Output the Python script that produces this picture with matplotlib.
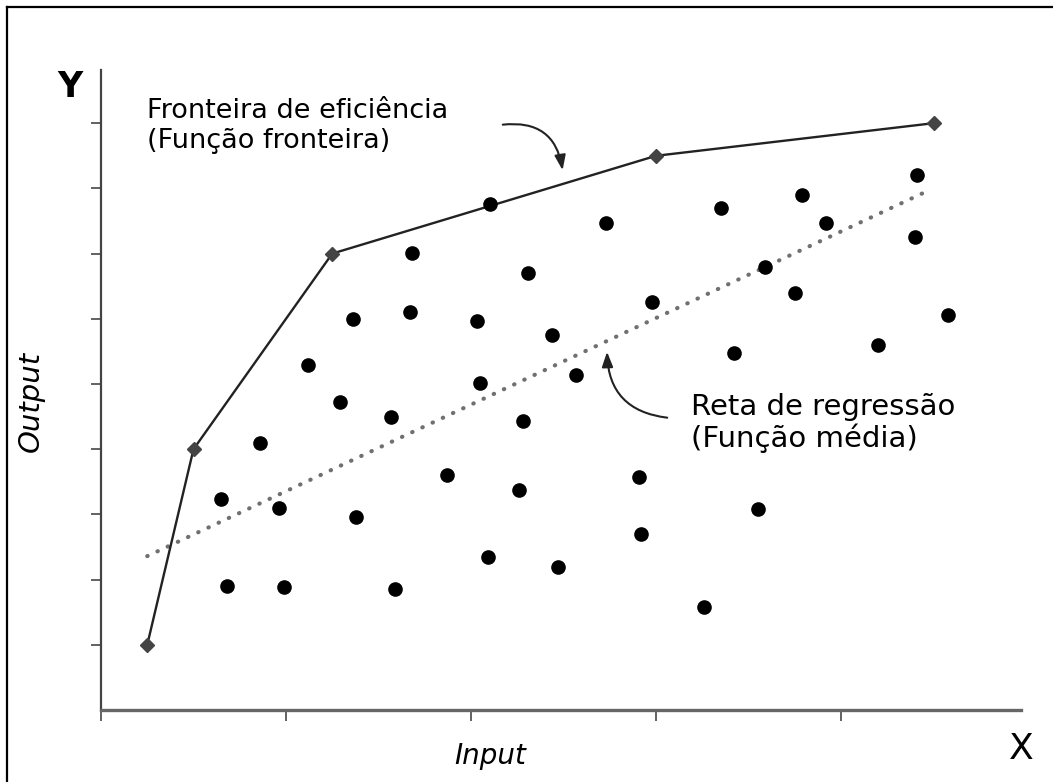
import matplotlib
matplotlib.use('Agg')
import matplotlib.pyplot as plt
from matplotlib.lines import Line2D

# Dados (unidades arbitrárias)
fronteira_x = [0.25, 0.5, 1.25, 3.0, 4.5]
fronteira_y = [1.0, 4.0, 7.0, 8.5, 9.0]

pontos_x = [1.68, 2.10, 2.31, 2.73, 3.35, 3.79, 3.92, 4.41, 4.40,
            1.36, 1.67, 2.03, 2.44, 2.98, 3.59, 3.75, 4.58,
            1.12, 1.29, 1.57, 2.05, 2.28, 2.57, 3.42, 4.20,
            0.86, 0.65, 0.96, 1.38, 1.87, 2.26, 2.91, 2.92, 3.55,
            2.09, 2.47, 0.68, 0.99, 1.59, 3.26]
pontos_y = [7.01, 7.76, 6.70, 7.47, 7.70, 7.90, 7.47, 8.21, 7.25,
            6.00, 6.10, 5.97, 5.75, 6.26, 6.79, 6.40, 6.06,
            5.29, 4.72, 4.49, 5.02, 4.43, 5.14, 5.48, 5.60,
            4.10, 3.24, 3.10, 2.96, 3.60, 3.37, 3.57, 2.70, 3.08,
            2.35, 2.19, 1.90, 1.89, 1.86, 1.58]

regressao_x = [0.25, 4.49]
regressao_y = [2.36, 7.99]

xticks = [0, 1, 2, 3, 4]
yticks = [1, 2, 3, 4, 5, 6, 7, 8, 9]

fig = plt.figure(figsize=(10.53, 7.82), dpi=100, facecolor='white')
W, H = 1053.0, 782.0
PX, PY = 185.0, 65.2  # pixels por unidade


def dx(px):
    return (px - 101) / PX


def dy(py):
    return (710 - py) / PY


ax = fig.add_axes([101 / W, 72 / H, 920 / W, 640 / H])
ax.set_xlim(0, 920 / PX)
ax.set_ylim(0, 640 / PY)

for s in ['top', 'right']:
    ax.spines[s].set_visible(False)
ax.spines['bottom'].set_color('#666666')
ax.spines['bottom'].set_linewidth(2.4)
ax.spines['left'].set_color('#444444')
ax.spines['left'].set_linewidth(1.6)

ax.set_xticks(xticks)
ax.set_yticks(yticks)
ax.set_xticklabels([])
ax.set_yticklabels([])
ax.tick_params(axis='x', direction='out', length=8, width=1.3, color='#555555')
ax.tick_params(axis='y', direction='out', length=7, width=1.3, color='#555555')

# Fronteira de eficiência
ax.plot(fronteira_x, fronteira_y, color='#222222', linewidth=1.7,
        marker='D', markersize=7.5, markerfacecolor='#444444',
        markeredgecolor='#444444', clip_on=False, zorder=3)

# Reta de regressão
ax.plot(regressao_x, regressao_y, color='#707070', linewidth=3.0,
        linestyle=(0, (0.1, 2.6)), dash_capstyle='round', zorder=2)

# Observações
ax.plot(pontos_x, pontos_y, linestyle='none', marker='o', markersize=9.5,
        color='black', clip_on=False, zorder=4)

ax.text(dx(147), dy(148), 'Fronteira de eficiência\n(Função fronteira)',
        fontsize=19.5, va='baseline', ha='left', linespacing=1.18)
ax.text(dx(691), dy(447), 'Reta de regressão\n(Função média)',
        fontsize=21, va='baseline', ha='left', linespacing=1.12)

seta = dict(arrowstyle='-|>,head_length=0.6,head_width=0.22',
            color='#222222', linewidth=1.5, mutation_scale=15)
ax.annotate('', xy=(dx(563), dy(173)), xytext=(dx(500), dy(125)),
            arrowprops=dict(seta, connectionstyle='arc3,rad=-0.5'))
ax.annotate('', xy=(dx(607), dy(349)), xytext=(dx(670), dy(418)),
            arrowprops=dict(seta, connectionstyle='arc3,rad=-0.45'))

# Rótulos dos eixos
fig.text(70 / W, 1 - 87 / H, 'Y', fontsize=25, fontweight='bold',
         ha='center', va='center')
fig.text(1021 / W, 1 - 749 / H, 'X', fontsize=26,
         ha='center', va='center')
fig.text(490 / W, 1 - 756 / H, 'Input', fontsize=20, style='italic',
         ha='center', va='center')
fig.text(31 / W, 1 - 401 / H, 'Output', fontsize=21, style='italic',
         rotation=90, ha='center', va='center')

# Moldura (só esquerda e topo aparecem)
fig.add_artist(Line2D([7 / W, 7 / W], [0, 1 - 7 / H], color='black',
                      linewidth=1.6, transform=fig.transFigure))
fig.add_artist(Line2D([7 / W, 1], [1 - 7 / H, 1 - 7 / H], color='black',
                      linewidth=1.6, transform=fig.transFigure))

fig.savefig('out.png', dpi=100, facecolor='white')
